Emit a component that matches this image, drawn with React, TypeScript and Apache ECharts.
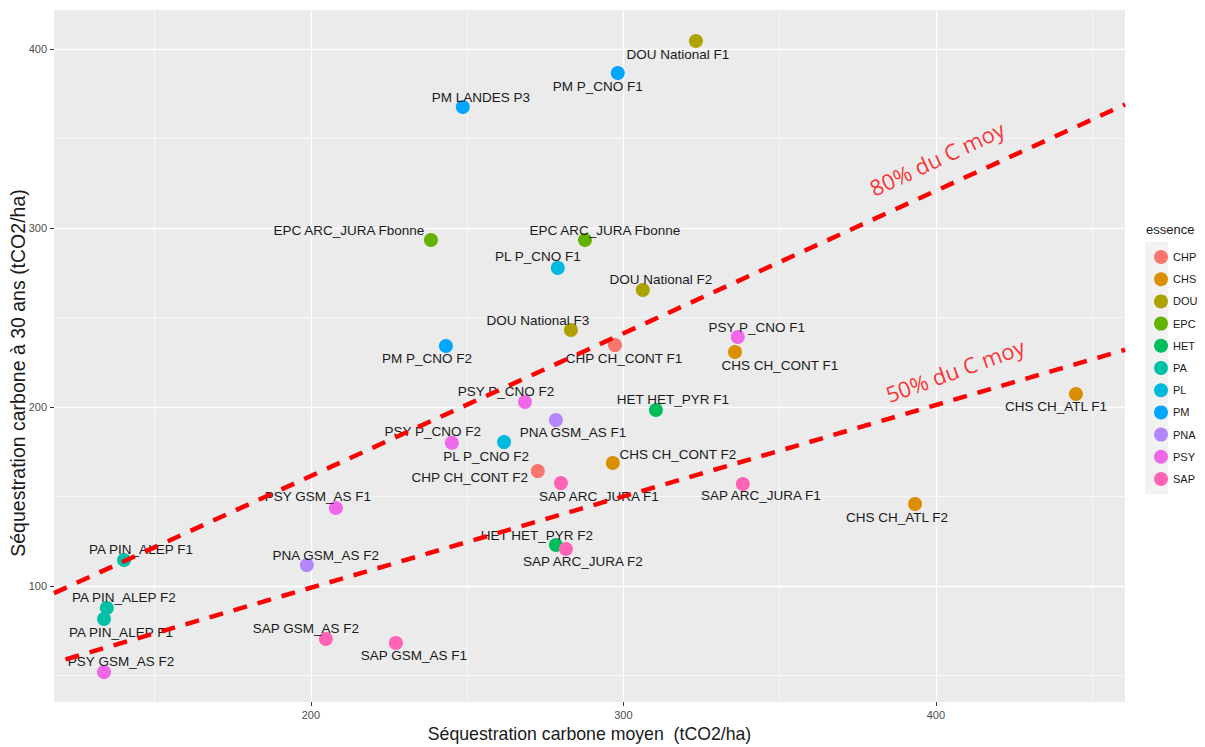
import React, { useEffect, useRef } from "react";
import * as echarts from "echarts";

const essences = ["CHP", "CHS", "DOU", "EPC", "HET", "PA", "PL", "PM", "PNA", "PSY", "SAP"];
const essenceColors = ["#F8766D", "#DB8E00", "#AEA200", "#64B200", "#00BD5C", "#00C1A7", "#00BADE", "#00A6FF", "#B385FF", "#EF67EB", "#FF63B6"];

const pointNames = [
  "CHP CH_CONT F1", "CHP CH_CONT F2",
  "CHS CH_CONT F1", "CHS CH_CONT F2", "CHS CH_ATL F1", "CHS CH_ATL F2",
  "DOU National F1", "DOU National F2", "DOU National F3",
  "EPC ARC_JURA Fbonne", "EPC ARC_JURA Fbonne",
  "HET HET_PYR F1", "HET HET_PYR F2",
  "PA PIN_ALEP F1", "PA PIN_ALEP F2", "PA PIN_ALEP F1",
  "PL P_CNO F1", "PL P_CNO F2",
  "PM P_CNO F1", "PM LANDES P3", "PM P_CNO F2",
  "PNA GSM_AS F1", "PNA GSM_AS F2",
  "PSY P_CNO F1", "PSY P_CNO F2", "PSY P_CNO F2", "PSY GSM_AS F1", "PSY GSM_AS F2",
  "SAP ARC_JURA F1", "SAP ARC_JURA F1", "SAP ARC_JURA F2", "SAP GSM_AS F2", "SAP GSM_AS F1",
];
const pointEssence = [
  "CHP", "CHP",
  "CHS", "CHS", "CHS", "CHS",
  "DOU", "DOU", "DOU",
  "EPC", "EPC",
  "HET", "HET",
  "PA", "PA", "PA",
  "PL", "PL",
  "PM", "PM", "PM",
  "PNA", "PNA",
  "PSY", "PSY", "PSY", "PSY", "PSY",
  "SAP", "SAP", "SAP", "SAP", "SAP",
];
const xValues = [
  297.3, 272.6,
  335.7, 296.6, 444.8, 393.3,
  323.2, 306.2, 283.2,
  238.4, 287.7,
  310.4, 278.4,
  140.2, 134.7, 133.8,
  279.0, 261.8,
  298.2, 248.6, 243.2,
  278.4, 198.7,
  336.6, 268.5, 245.1, 208.0, 133.8,
  280.0, 338.2, 281.6, 204.8, 227.2,
];
const yValues = [
  234.6, 164.2,
  230.7, 168.7, 207.3, 145.8,
  404.5, 265.4, 243.0,
  293.3, 293.3,
  198.3, 122.9,
  114.5, 87.7, 81.6,
  277.7, 180.4,
  386.6, 367.6, 234.1,
  192.7, 111.7,
  239.1, 202.8, 180.0, 143.6, 51.9,
  157.5, 157.0, 120.7, 70.4, 68.2,
];
// label placement (pixel offsets from the point, layout only)
const labelOffsets = [
  [9, 13], [-68, 6],
  [45, 13], [65, -9], [-20, 13], [-18, 13],
  [-18, 14], [18, -10], [-33, -10],
  [-82, -10], [20, -10],
  [17, -11], [-19, -10],
  [17, -11], [17, -11], [17, 14],
  [-20, -11], [-18, 14],
  [-20, 13], [18, -10], [-19, 13],
  [17, 12], [19, -10],
  [19, -10], [-19, -11], [-19, -11], [-18, -11], [17, -11],
  [38, 13], [18, 12], [17, 13], [-20, -10], [18, 13],
];

const xRange = [117.8, 460.5];
const yRange = [35.2, 421.8];
const xTicks = [200, 300, 400];
const yTicks = [100, 200, 300, 400];

const line80 = [[117.8, 96], [460.5, 369]];
const line50 = [[121.5, 59], [460.5, 232]];

const annotationTexts = ["80% du C moy", "50% du C moy"];
const annotationX = [400.3, 406.1];
const annotationY = [339.1, 220.7];
const annotationAngles = [25, 20];

const xTitle = "Séquestration carbone moyen  (tCO2/ha)";
const yTitle = "Séquestration carbone à 30 ans (tCO2/ha)";

export default function App() {
  const ref = useRef<HTMLDivElement>(null);
  useEffect(() => {
    const chart = echarts.init(ref.current!, null, { renderer: "svg" });
    const labelFont = "'Liberation Sans', Arial, sans-serif";
    const scatterSeries = essences.map((ess, ei) => ({
      type: "scatter",
      name: ess,
      symbol: "circle",
      symbolSize: 14,
      itemStyle: { color: essenceColors[ei], opacity: 1 },
      z: 2,
      label: {
        show: true,
        position: "inside",
        formatter: "{b}",
        color: "#1a1a1a",
        fontSize: 13.5,
        fontFamily: labelFont,
      },
      data: pointNames
        .map((n, i) => ({ i, n }))
        .filter(({ i }) => pointEssence[i] === ess)
        .map(({ i, n }) => ({
          name: n,
          value: [xValues[i], yValues[i]],
          label: { offset: labelOffsets[i] },
        })),
    }));

    const dashed = (data: number[][], name: string) => ({
      type: "line",
      name,
      data,
      symbol: "none",
      silent: true,
      z: 3,
      lineStyle: { color: "#FF0000", width: 4.5, type: [14, 11], cap: "butt" },
    });

    const option: any = {
      animation: false,
      backgroundColor: "#ffffff",
      grid: {
        left: 54,
        top: 10,
        right: 80,
        bottom: 45,
        show: true,
        backgroundColor: "#EBEBEB",
        borderWidth: 0,
        containLabel: false,
        outerBoundsMode: "none",
      },
      xAxis: {
        type: "value",
        min: xRange[0],
        max: xRange[1],
        splitNumber: 4,
        name: xTitle,
        nameLocation: "middle",
        nameGap: 22,
        nameTextStyle: { color: "#1a1a1a", fontSize: 17.7, fontFamily: labelFont },
        axisLine: { show: false },
        axisTick: { show: true, length: 4, lineStyle: { color: "#333333" }, customValues: xTicks },
        axisLabel: { color: "#4d4d4d", fontSize: 11, margin: 7, customValues: xTicks, fontFamily: labelFont },
        splitLine: { show: true, lineStyle: { color: "#ffffff", width: 1.3 } },
        minorTick: { show: false, splitNumber: 2 },
        minorSplitLine: { show: true, lineStyle: { color: "#ffffff", width: 0.6 } },
      },
      yAxis: {
        type: "value",
        min: yRange[0],
        max: yRange[1],
        splitNumber: 4,
        axisLine: { show: false },
        axisTick: { show: true, length: 4, lineStyle: { color: "#333333" }, customValues: yTicks },
        axisLabel: { color: "#4d4d4d", fontSize: 11, margin: 7, customValues: yTicks, fontFamily: labelFont },
        splitLine: { show: true, lineStyle: { color: "#ffffff", width: 1.3 } },
        minorTick: { show: false, splitNumber: 2 },
        minorSplitLine: { show: true, lineStyle: { color: "#ffffff", width: 0.6 } },
      },
      legend: {
        data: essences,
        orient: "vertical",
        left: 1149,
        top: 245,
        itemWidth: 14,
        itemHeight: 14,
        itemGap: 8.2,
        icon: "circle",
        textStyle: { color: "#1a1a1a", fontSize: 11, fontFamily: labelFont },
        selectedMode: false,
      },
      graphic: [
        {
          type: "rect",
          left: 1145,
          top: 242,
          shape: { width: 23, height: 252 },
          style: { fill: "#F2F2F2" },
          z: -1,
        },
        {
          type: "text",
          left: 1146,
          top: 223,
          style: { text: "essence", fill: "#1a1a1a", fontSize: 13, fontFamily: labelFont },
        },
        {
          type: "text",
          x: 18,
          y: 373,
          rotation: Math.PI / 2,
          style: {
            text: yTitle,
            fill: "#1a1a1a",
            fontSize: 19.5,
            fontFamily: labelFont,
            align: "center",
            verticalAlign: "middle",
          },
        },
      ],
      series: [
        ...scatterSeries,
        dashed(line80, "80"),
        dashed(line50, "50"),
        {
          type: "scatter",
          name: "annotations",
          symbolSize: 0,
          silent: true,
          z: 4,
          data: annotationTexts.map((t, i) => ({
            name: t,
            value: [annotationX[i], annotationY[i]],
            label: {
              show: true,
              position: "inside",
              formatter: t,
              rotate: annotationAngles[i],
              color: "#FF0000",
              fontSize: 22,
              fontFamily: "'Open Sans', sans-serif",
            },
          })),
        },
      ],
    };
    chart.setOption(option);
    return () => chart.dispose();
  }, []);
  return (
    <div
      ref={ref}
      style={{ position: "fixed", left: 0, top: 0, width: 1205, height: 747, background: "#fff" }}
    />
  );
}
